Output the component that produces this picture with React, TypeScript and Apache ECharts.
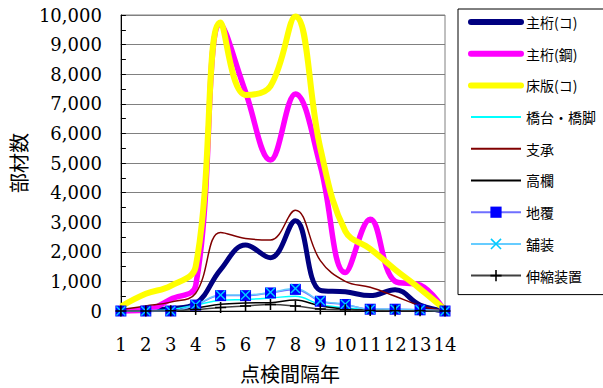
import React, { useEffect, useRef } from 'react';
import * as echarts from 'echarts';

const categories = ['1', '2', '3', '4', '5', '6', '7', '8', '9', '10', '11', '12', '13', '14'];

const shugetaConcrete = [0, 40, 80, 250, 1400, 2230, 1800, 3050, 700, 650, 520, 720, 200, 0];
const shugetaSteel = [0, 30, 400, 850, 9700, 7400, 5100, 7330, 4900, 1300, 3100, 1000, 880, 0];
const shobanConcrete = [150, 580, 850, 1500, 9750, 7300, 7600, 9950, 5500, 2700, 2100, 1400, 750, 50];
const kyodaiKyokyaku = [0, 10, 50, 200, 360, 390, 440, 500, 220, 110, 50, 50, 30, 0];
const shisho = [50, 170, 300, 600, 2650, 2450, 2400, 3400, 1700, 1000, 800, 500, 180, 0];
const koran = [0, 0, 20, 100, 230, 270, 280, 370, 170, 70, 30, 20, 10, 0];
const jifuku = [0, 0, 0, 200, 520, 520, 610, 730, 330, 220, 60, 60, 40, 0];
const hoso = [0, 0, 0, 210, 540, 540, 630, 760, 350, 230, 60, 60, 40, 0];
const shinshuku = [0, 0, 10, 50, 120, 170, 220, 170, 70, 40, 20, 10, 5, 0];

const legendNames = ['主桁(コ)', '主桁(鋼)', '床版(コ)', '橋台・橋脚', '支承', '高欄', '地覆', '舗装', '伸縮装置'];
const thickNames = ['主桁(コ)', '主桁(鋼)', '床版(コ)'];
const markerless = ['主桁(コ)', '主桁(鋼)', '床版(コ)', '橋台・橋脚', '支承', '高欄'];

const yTicks = { min: 0, max: 10000, interval: 1000 };

const CROSS = 'path://M0,1L1,0L5,4L9,0L10,1L6,5L10,9L9,10L5,6L1,10L0,9L4,5Z';
const PLUS = 'path://M4.3,0H5.7V4.3H10V5.7H5.7V10H4.3V5.7H0V4.3H4.3Z';

export default function App() {
  const ref = useRef<HTMLDivElement>(null);
  useEffect(() => {
    document.body.style.margin = '0';
    const chart = echarts.init(ref.current!, null, { renderer: 'svg', width: 603, height: 388 });
    const cjk = 'Noto Sans CJK JP';
    const serif = 'DejaVu Serif';
    const plain = (name: string, data: number[], color: string, width: number) => ({
      name,
      type: 'line',
      data,
      smooth: 0.4,
      symbol: 'none',
      lineStyle: { color, width },
      itemStyle: { color },
    });
    chart.setOption({
      animation: false,
      grid: {
        left: 120,
        width: 325,
        top: 15,
        height: 300,
        show: true,
        borderColor: '#808080',
        borderWidth: 1,
        backgroundColor: 'transparent',
      },
      legend: {
        orient: 'vertical',
        left: 458,
        top: 9,
        itemWidth: 50,
        itemHeight: 14,
        itemGap: 17.7,
        padding: [6, 10, 12, 10],
        borderColor: '#000',
        borderWidth: 1,
        textStyle: { fontFamily: cjk, fontSize: 14, color: '#000' },
        data: legendNames.map((n) => {
          const item: any = { name: n };
          if (markerless.includes(n)) item.itemStyle = { opacity: 0 };
          if (thickNames.includes(n)) item.lineStyle = { width: 6, cap: 'round' };
          return item;
        }),
      },
      xAxis: {
        type: 'category',
        data: categories,
        boundaryGap: false,
        name: '点検間隔年',
        nameLocation: 'middle',
        nameGap: 52,
        nameTextStyle: { fontFamily: cjk, fontSize: 20, color: '#000', padding: [0, 0, 0, 14] },
        axisLine: { lineStyle: { color: '#000', width: 1 } },
        axisTick: { show: false },
        axisLabel: { fontFamily: serif, fontSize: 18, color: '#000', margin: 24, interval: 0 },
        splitLine: { show: false },
      },
      yAxis: {
        type: 'value',
        min: yTicks.min,
        max: yTicks.max,
        interval: yTicks.interval,
        name: '部材数',
        nameLocation: 'middle',
        nameRotate: 90,
        nameGap: 80,
        nameTextStyle: { fontFamily: cjk, fontSize: 20, color: '#000' },
        axisLine: { show: true, lineStyle: { color: '#000', width: 1 } },
        axisTick: { show: true, inside: true, length: 5, lineStyle: { color: '#000' } },
        minorTick: { show: true, splitNumber: 2, length: 5, lineStyle: { color: '#000' } },
        axisLabel: {
          fontFamily: serif,
          fontSize: 18,
          color: '#000',
          margin: 19,
          formatter: (v: number) => v.toLocaleString('en-US'),
        },
        splitLine: { show: true, lineStyle: { color: '#808080', width: 1 } },
      },
      series: [
        plain('主桁(コ)', shugetaConcrete, '#000080', 5),
        plain('主桁(鋼)', shugetaSteel, '#ff00ff', 5.5),
        plain('床版(コ)', shobanConcrete, '#ffff00', 6),
        plain('橋台・橋脚', kyodaiKyokyaku, '#00ffff', 1.5),
        plain('支承', shisho, '#800000', 1.5),
        plain('高欄', koran, '#000000', 1.5),
        {
          name: '地覆',
          type: 'line',
          data: jifuku,
          smooth: 0.4,
          symbol: 'rect',
          symbolSize: 11,
          lineStyle: { color: '#6f6fff', width: 1.5 },
          itemStyle: { color: '#0000ff' },
        },
        {
          name: '舗装',
          type: 'line',
          data: hoso,
          smooth: 0.4,
          symbol: CROSS,
          symbolSize: 10,
          lineStyle: { color: '#66ccff', width: 1.5 },
          itemStyle: { color: '#00ccff' },
        },
        {
          name: '伸縮装置',
          type: 'line',
          data: shinshuku,
          smooth: 0.4,
          symbol: PLUS,
          symbolSize: 11,
          lineStyle: { color: '#404040', width: 1.5 },
          itemStyle: { color: '#000000' },
        },
      ],
    });
    return () => chart.dispose();
  }, []);
  return <div ref={ref} style={{ width: 603, height: 388 }} />;
}
